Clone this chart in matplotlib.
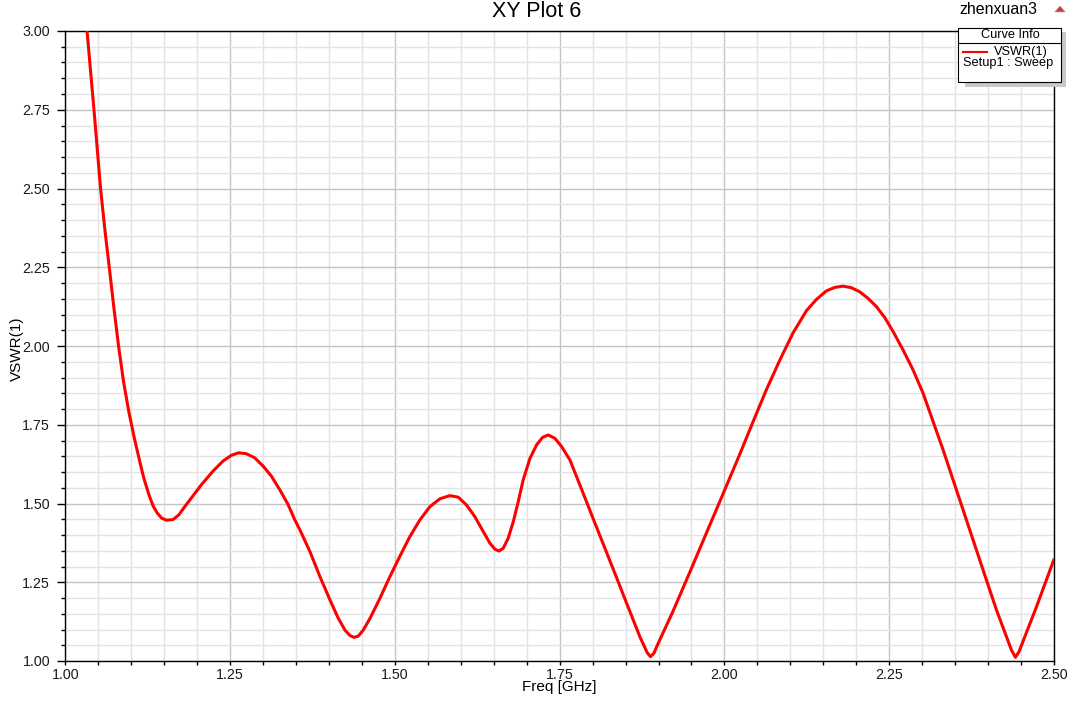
import matplotlib
matplotlib.use('Agg')
import matplotlib.pyplot as plt
import matplotlib.patches as patches
from matplotlib.ticker import MultipleLocator, FormatStrFormatter

plt.rcParams['font.family'] = ['Liberation Sans', 'DejaVu Sans']

# 曲线数据
freq_ghz = [1.000, 1.015, 1.025, 1.033, 1.0435, 1.0535, 1.060, 1.0667, 1.0735, 1.0808,
            1.0885, 1.0965, 1.1045, 1.1131, 1.1192, 1.1273, 1.1333, 1.1394, 1.146,
            1.1535, 1.1636, 1.1727, 1.1798, 1.1914, 1.2066, 1.2242, 1.2394, 1.252, 1.2631,
            1.2747, 1.2874, 1.300, 1.3126, 1.3253, 1.3379, 1.348, 1.356, 1.3712, 1.3863,
            1.4015, 1.4141, 1.4243, 1.4318, 1.4379, 1.4445, 1.452, 1.4622, 1.4773, 1.4925,
            1.5077, 1.5228, 1.538, 1.5532, 1.5683, 1.5835, 1.5962, 1.6088, 1.6214, 1.6341,
            1.6442, 1.6518, 1.6578, 1.6644, 1.672, 1.6796, 1.6872, 1.6947, 1.7049, 1.715,
            1.7241, 1.7327, 1.7428, 1.7529, 1.7656, 1.7807, 1.801, 1.816, 1.8363, 1.8515,
            1.8717, 1.8828, 1.8878, 1.8929, 1.8995, 1.922, 1.9475, 1.9728, 2.001, 2.0234,
            2.0435, 2.0638, 2.084, 2.1042, 2.1244, 2.1396, 2.1548, 2.1674, 2.180, 2.1927,
            2.2053, 2.218, 2.2306, 2.2433, 2.2559, 2.2711, 2.2862, 2.3014, 2.3318, 2.352,
            2.3722, 2.3924, 2.4127, 2.4354, 2.4415, 2.447, 2.4734, 2.4995]
vswr = [3.78, 3.42, 3.18, 3.00, 2.75, 2.50, 2.37, 2.25, 2.125, 2.00,
        1.885, 1.79, 1.71, 1.632, 1.58, 1.525, 1.492, 1.47, 1.454,
        1.447, 1.449, 1.465, 1.486, 1.518, 1.56, 1.603, 1.635, 1.653, 1.661,
        1.658, 1.645, 1.619, 1.587, 1.544, 1.497, 1.449, 1.416, 1.347, 1.268,
        1.194, 1.136, 1.098, 1.081, 1.075, 1.079, 1.098, 1.135, 1.199, 1.268,
        1.333, 1.395, 1.448, 1.490, 1.515, 1.525, 1.520, 1.495, 1.458, 1.411,
        1.374, 1.355, 1.349, 1.358, 1.39, 1.442, 1.506, 1.575, 1.643, 1.686,
        1.710, 1.7175, 1.707, 1.681, 1.638, 1.559, 1.451, 1.372, 1.265, 1.184,
        1.077, 1.0265, 1.0138, 1.0243, 1.056, 1.158, 1.282, 1.407, 1.546, 1.657,
        1.76, 1.862, 1.955, 2.042, 2.112, 2.148, 2.175, 2.186, 2.19, 2.185,
        2.172, 2.151, 2.125, 2.09, 2.046, 1.987, 1.924, 1.85, 1.670, 1.543,
        1.416, 1.289, 1.162, 1.035, 1.0117, 1.03, 1.172, 1.32]

W, H = 1078, 702


def fx(px):
    return px / W


def fy(py):
    return 1 - py / H


# 创建图形
fig = plt.figure(figsize=(W / 100, H / 100), dpi=100)
ax = fig.add_axes([fx(65.3), fy(661), fx(1054) - fx(65.3), fy(31) - fy(661)])

ax.plot(freq_ghz, vswr, color='#ff0000', lw=2.2, solid_joinstyle='round', zorder=3)

ax.set_xlim(1.0, 2.5)
ax.set_ylim(1.0, 3.0)
ax.xaxis.set_major_locator(MultipleLocator(0.25))
ax.xaxis.set_minor_locator(MultipleLocator(0.05))
ax.yaxis.set_major_locator(MultipleLocator(0.25))
ax.yaxis.set_minor_locator(MultipleLocator(0.05))
ax.xaxis.set_major_formatter(FormatStrFormatter('%.2f'))
ax.yaxis.set_major_formatter(FormatStrFormatter('%.2f'))

# 网格
ax.grid(which='minor', color='#e3e3e3', lw=1.0, zorder=0)
ax.grid(which='major', color='#c4c4c4', lw=1.0, zorder=1)
ax.set_axisbelow(True)

# 刻度
ax.tick_params(axis='y', which='major', direction='out', length=6, width=1, pad=5,
               labelsize=10.3, labelcolor='#1a1a1a')
ax.tick_params(axis='y', which='minor', direction='out', length=3, width=1)
ax.tick_params(axis='x', which='both', direction='out', length=3, width=1, pad=2,
               labelsize=10.3, labelcolor='#1a1a1a')

for s in ax.spines.values():
    s.set_color('black')
    s.set_linewidth(1.0)

# 标题和轴标签
fig.text(fx(537), fy(11.5), 'XY Plot 6', fontsize=15.5, ha='center', va='center')
ax.set_xlabel('Freq [GHz]', fontsize=11, va='center')
ax.xaxis.set_label_coords(0.5, (661 - 687) / 630)
ax.set_ylabel('VSWR(1)', fontsize=11, va='center')
ax.yaxis.set_label_coords((16.5 - 65.3) / 988.7, (661 - 348.5) / 630)

# 右上角用户名和图标
fig.text(fx(998), fy(10), 'zhenxuan3', fontsize=11.5, ha='center', va='center')
fig.add_artist(patches.RegularPolygon((fx(1060), fy(10)), numVertices=3, radius=0.0055,
                                      facecolor='#e03030', edgecolor='#999999', lw=0.5,
                                      transform=fig.transFigure))

# 图例框 (Curve Info)
shadow = patches.Rectangle((fx(965), fy(87)), fx(1066) - fx(965), fy(32) - fy(87),
                           facecolor='#c8c8c8', edgecolor='none', transform=fig.transFigure,
                           zorder=5)
box = patches.Rectangle((fx(958.3), fy(81.7)), fx(1060.7) - fx(958.3), fy(28.3) - fy(81.7),
                        facecolor='white', edgecolor='black', lw=0.8, transform=fig.transFigure,
                        zorder=6)
fig.add_artist(shadow)
fig.add_artist(box)
fig.add_artist(plt.Line2D([fx(958.3), fx(1060.7)], [fy(42.7), fy(42.7)], color='black', lw=0.8,
                          transform=fig.transFigure, zorder=7))
fig.text(fx(1010), fy(34.5), 'Curve Info', fontsize=9.2, ha='center', va='center', zorder=8)
fig.add_artist(plt.Line2D([fx(962.7), fx(986.7)], [fy(51.5), fy(51.5)], color='#ff0000', lw=1.5,
                          transform=fig.transFigure, zorder=8))
fig.text(fx(1048), fy(52), 'VSWR(1)', fontsize=9.2, ha='right', va='center', zorder=8)
fig.text(fx(963), fy(63), 'Setup1 : Sweep', fontsize=9.2, ha='left', va='center', zorder=8)

plt.savefig('out.png', dpi=100)
